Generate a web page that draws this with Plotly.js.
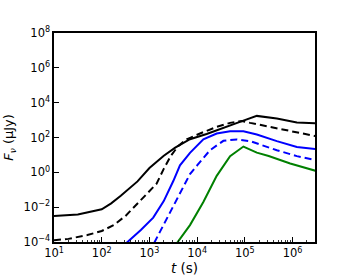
<!DOCTYPE html>
<html>
<head>
<meta charset="utf-8">
<script src="https://cdn.plot.ly/plotly-3.0.1.min.js"></script>
<style>
html,body{margin:0;padding:0;background:#fff;}
#chart{width:350px;height:276px;}
</style>
</head>
<body>
<div id="chart"></div>
<script>
// time (s) and flux density (μJy)
const tBlackSolid = [10, 31.6, 100, 158, 251, 562, 1000, 2000, 3470, 7080, 15800, 25700, 87100, 178000, 468000, 1.23e6, 3.02e6];
const fBlackSolid = [3.16e-3, 3.8e-3, 7.6e-3, 0.0166, 0.0447, 0.302, 1.78, 8.91, 26.3, 79.4, 158, 263, 871, 1740, 1230, 724, 661];

const tBlackDash = [10, 20, 50.1, 100, 178, 316, 631, 1000, 1413, 1995, 2818, 3981, 6030, 11500, 25700, 49000, 87100, 129000, 468000, 1.23e6, 3.02e6];
const fBlackDash = [1.26e-4, 1.51e-4, 2.51e-4, 4.27e-4, 9.33e-4, 3.16e-3, 2.24e-2, 8.91e-2, 0.224, 1.585, 8.91, 31.6, 79.4, 170, 407, 692, 891, 692, 331, 195, 120];

const tBlueSolid = [316, 661, 1202, 1995, 3162, 4365, 7079, 13490, 25700, 49000, 93300, 178000, 468000, 1.23e6, 3.02e6];
const fBlueSolid = [7.94e-5, 4.9e-4, 2.51e-3, 2.24e-2, 0.316, 2.51, 13.2, 79.4, 170, 229, 229, 148, 61.7, 28.8, 21.4];

const tBlueDash = [1259, 1995, 3162, 4467, 7079, 10000, 18600, 35500, 67600, 129000, 468000, 1.23e6, 3.02e6];
const fBlueDash = [8.91e-5, 1e-3, 1.26e-2, 7.94e-2, 0.794, 2.51, 18.6, 64.6, 77.6, 61.7, 18.6, 8.51, 5.01];

const tGreen = [3800, 7079, 13490, 25700, 49000, 93300, 178000, 316000, 891000, 3.02e6];
const fGreen = [8.91e-5, 9.33e-4, 0.02, 0.631, 8.51, 30.2, 13.5, 8.71, 3.24, 1.23];

const xTickVals = [10, 100, 1000, 10000, 100000, 1000000];
const xTickText = ['10<sup>1</sup>', '10<sup>2</sup>', '10<sup>3</sup>', '10<sup>4</sup>', '10<sup>5</sup>', '10<sup>6</sup>'];
const yTickVals = [1e-4, 1e-2, 1, 1e2, 1e4, 1e6, 1e8];
const yTickText = ['10<sup>\u22124</sup>', '10<sup>\u22122</sup>', '10<sup>0</sup>', '10<sup>2</sup>', '10<sup>4</sup>', '10<sup>6</sup>', '10<sup>8</sup>'];

function tr(x, y, color, dash) {
  return {x: x, y: y, type: 'scatter', mode: 'lines',
    line: {color: color, width: 2, dash: dash}, hoverinfo: 'skip', showlegend: false};
}

const data = [
  tr(tBlackSolid, fBlackSolid, '#000000', 'solid'),
  tr(tBlackDash, fBlackDash, '#000000', '7px,4px'),
  tr(tBlueSolid, fBlueSolid, '#0000ff', 'solid'),
  tr(tBlueDash, fBlueDash, '#0000ff', '7px,4px'),
  tr(tGreen, fGreen, '#008000', 'solid')
];

const font = {family: 'DejaVu Sans', size: 11, color: '#000'};

const layout = {
  width: 350, height: 276,
  margin: {l: 54, r: 35, t: 33, b: 34, pad: 0},
  paper_bgcolor: '#fff', plot_bgcolor: '#fff',
  font: font,
  showlegend: false,
  xaxis: {
    type: 'log', range: [1, 6.47], autorange: false,
    tickmode: 'array', tickvals: xTickVals, ticktext: xTickText,
    ticks: 'inside', ticklen: 5, tickwidth: 1, tickcolor: '#000',
    minor: {ticks: 'inside', ticklen: 2.5, tickwidth: 0.8, tickcolor: '#000', dtick: 'D1', showgrid: false},
    showline: true, linecolor: '#000', linewidth: 1.6, mirror: true,
    showgrid: false, zeroline: false,
    tickfont: {family: 'DejaVu Sans', size: 11.5, color: '#000'},
    title: {text: '<i>t</i> (s)', font: {family: 'DejaVu Sans', size: 13.5, color: '#000'}, standoff: 2}
  },
  yaxis: {
    type: 'log', range: [-4, 8], autorange: false,
    tickmode: 'array', tickvals: yTickVals, ticktext: yTickText,
    ticks: 'inside', ticklen: 5, tickwidth: 1, tickcolor: '#000',
    showline: true, linecolor: '#000', linewidth: 1.6, mirror: true,
    showgrid: false, zeroline: false,
    tickfont: {family: 'DejaVu Sans', size: 11.5, color: '#000'},
    title: {text: '<i>F</i><sub><i>\u03bd</i></sub> (\u03bcJy)', font: {family: 'DejaVu Sans', size: 13, color: '#000'}, standoff: 7}
  }
};

Plotly.newPlot('chart', data, layout, {staticPlot: true, displayModeBar: false});
</script>
</body>
</html>
